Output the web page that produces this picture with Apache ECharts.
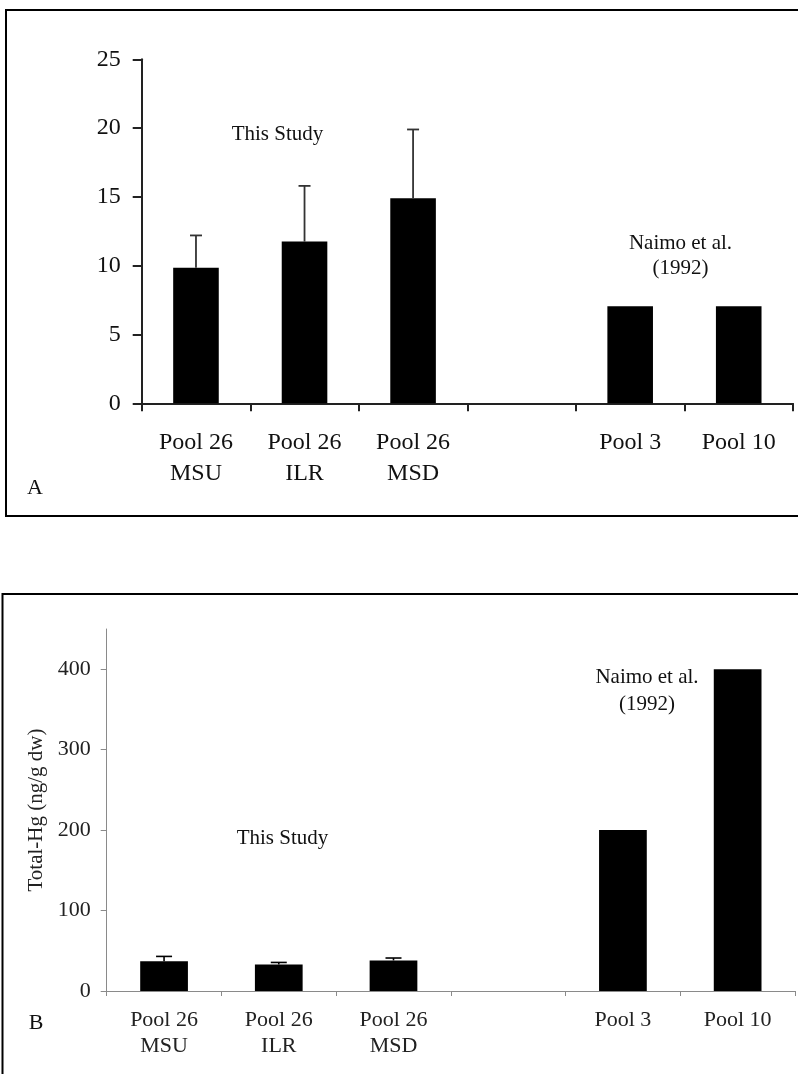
<!DOCTYPE html>
<html>
<head>
<meta charset="utf-8">
<script src="https://cdn.jsdelivr.net/npm/echarts@6/dist/echarts.min.js"></script>
<style>
html,body{margin:0;padding:0;background:#fff;}
#chart{width:798px;height:1074px;}
</style>
</head>
<body>
<div id="chart"></div>
<script>
const categories = ['Pool 26\nMSU', 'Pool 26\nILR', 'Pool 26\nMSD', '', 'Pool 3', 'Pool 10'];
const valuesA = [9.85, 11.75, 14.9, null, 7.05, 7.05];
const errUpperA = [12.2, 15.8, 19.9, null, null, null];
const valuesB = [37, 33, 38, null, 200, 400];
const errUpperB = [43, 35.5, 41, null, null, null];
const ticksA = [0, 5, 10, 15, 20, 25];
const ticksB = [0, 100, 200, 300, 400];
const yNameB = 'Total-Hg (ng/g dw)';
const noteStudy = 'This Study';
const noteNaimo = 'Naimo et al.\n(1992)';

const FONT = '"Liberation Serif", "Times New Roman", serif';

function errData(means, uppers) {
  const out = [];
  for (let i = 0; i < means.length; i++) {
    if (means[i] != null && uppers[i] != null) out.push([i, means[i], uppers[i]]);
  }
  return out;
}

function errRender(cap, color, lw) {
  return function (params, api) {
    const x = api.value(0), m = api.value(1), u = api.value(2);
    const p0 = api.coord([x, m]);
    const p1 = api.coord([x, u]);
    const st = { stroke: color, lineWidth: lw };
    return {
      type: 'group',
      children: [
        { type: 'line', shape: { x1: p0[0], y1: p0[1], x2: p1[0], y2: p1[1] }, style: st },
        { type: 'line', shape: { x1: p1[0] - cap, y1: p1[1], x2: p1[0] + cap, y2: p1[1] }, style: st }
      ]
    };
  };
}

const chart = echarts.init(document.getElementById('chart'));
chart.setOption({
  backgroundColor: '#fff',
  animation: false,
  textStyle: { fontFamily: FONT },
  grid: [
    { left: 141.7, right: 5, top: 59.3, bottom: 670.7, containLabel: false },
    { left: 106.7, right: 3, top: 629, bottom: 83, containLabel: false }
  ],
  xAxis: [
    {
      gridIndex: 0, type: 'category', data: categories,
      axisLine: { lineStyle: { color: '#222', width: 2 } },
      axisTick: { show: true, length: 8, alignWithLabel: false, lineStyle: { color: '#222', width: 2 } },
      axisLabel: { interval: 0, margin: 24, fontSize: 24, lineHeight: 31, color: '#111', fontFamily: FONT }
    },
    {
      gridIndex: 1, type: 'category', data: categories,
      axisLine: { lineStyle: { color: '#8a8a8a', width: 1 } },
      axisTick: { show: true, length: 5, lineStyle: { color: '#8a8a8a', width: 1 } },
      axisLabel: { interval: 0, margin: 16, fontSize: 22, lineHeight: 26, color: '#222', fontFamily: FONT }
    }
  ],
  yAxis: [
    {
      gridIndex: 0, type: 'value', min: 0, max: 25, interval: 5,
      splitLine: { show: false },
      axisLine: { show: true, lineStyle: { color: '#222', width: 2 } },
      axisTick: { show: true, length: 9, lineStyle: { color: '#222', width: 2 } },
      axisLabel: { margin: 21, fontSize: 24, color: '#111', fontFamily: FONT, customValues: ticksA }
    },
    {
      gridIndex: 1, type: 'value', min: 0, max: 450,
      name: yNameB, nameLocation: 'middle', nameGap: 58, nameRotate: 90,
      nameTextStyle: { fontSize: 21, color: '#222', fontFamily: FONT },
      splitLine: { show: false },
      axisLine: { show: true, lineStyle: { color: '#8a8a8a', width: 1 } },
      axisTick: { show: true, length: 6, lineStyle: { color: '#8a8a8a', width: 1 }, customValues: ticksB },
      axisLabel: { margin: 16, fontSize: 22, color: '#222', fontFamily: FONT, customValues: ticksB }
    }
  ],
  series: [
    {
      type: 'bar', xAxisIndex: 0, yAxisIndex: 0, data: valuesA,
      barWidth: '42%', itemStyle: { color: '#000' }, z: 2
    },
    {
      type: 'custom', xAxisIndex: 0, yAxisIndex: 0,
      data: errData(valuesA, errUpperA),
      encode: { x: 0, y: [1, 2] },
      renderItem: errRender(6, '#333', 1.8), z: 3
    },
    {
      type: 'bar', xAxisIndex: 1, yAxisIndex: 1, data: valuesB,
      barWidth: '41.6%', itemStyle: { color: '#000' }, z: 2
    },
    {
      type: 'custom', xAxisIndex: 1, yAxisIndex: 1,
      data: errData(valuesB, errUpperB),
      encode: { x: 0, y: [1, 2] },
      renderItem: errRender(8, '#000', 1.6), z: 3
    }
  ],
  graphic: [
    { type: 'rect', silent: true, shape: { x: 6, y: 10, width: 800, height: 506 },
      style: { fill: null, stroke: '#000', lineWidth: 2 } },
    { type: 'rect', silent: true, shape: { x: 2.5, y: 594, width: 800, height: 500 },
      style: { fill: null, stroke: '#000', lineWidth: 2 } },
    { type: 'text', x: 35, y: 488, style: { text: 'A', font: '22px ' + FONT, fill: '#111', align: 'center', verticalAlign: 'middle' } },
    { type: 'text', x: 36, y: 1023, style: { text: 'B', font: '22px ' + FONT, fill: '#111', align: 'center', verticalAlign: 'middle' } },
    { type: 'text', x: 277.5, y: 134, style: { text: noteStudy, font: '21px ' + FONT, fill: '#111', align: 'center', verticalAlign: 'middle' } },
    { type: 'text', x: 680.5, y: 255.5, style: { text: noteNaimo, font: '21px ' + FONT, lineHeight: 25, fill: '#111', align: 'center', verticalAlign: 'middle' } },
    { type: 'text', x: 282.5, y: 838, style: { text: noteStudy, font: '21px ' + FONT, fill: '#111', align: 'center', verticalAlign: 'middle' } },
    { type: 'text', x: 647, y: 690.5, style: { text: noteNaimo, font: '21px ' + FONT, lineHeight: 27, fill: '#111', align: 'center', verticalAlign: 'middle' } }
  ]
});
</script>
</body>
</html>
